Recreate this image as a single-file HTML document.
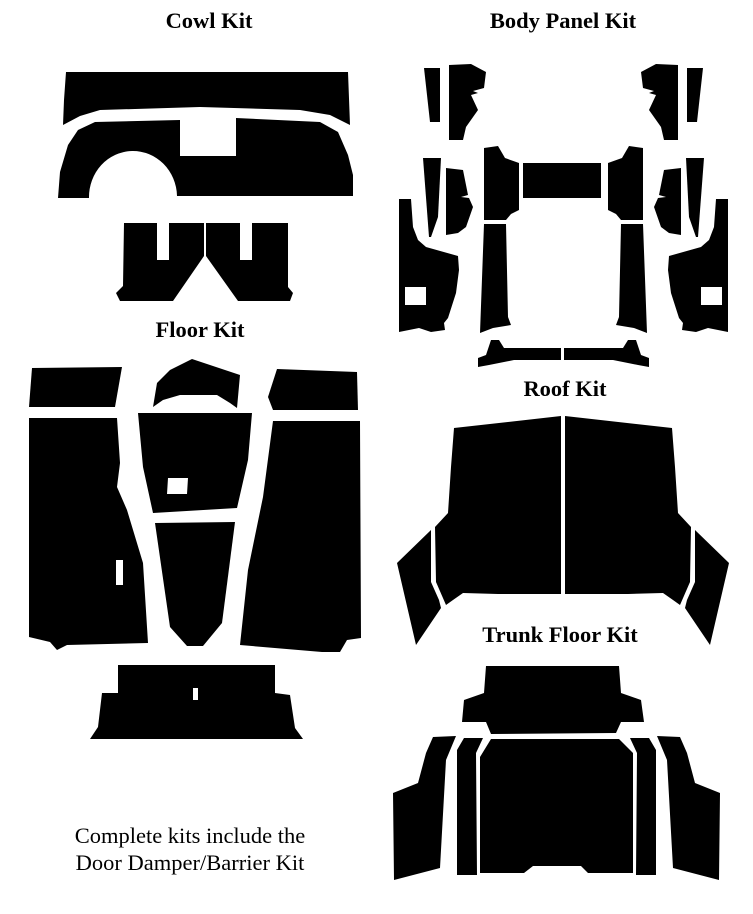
<!DOCTYPE html>
<html><head><meta charset="utf-8"><style>
html,body{margin:0;padding:0;background:#fff;}
svg{display:block;}
text{font-family:"Liberation Serif",serif;fill:#000;}
.t{font-weight:bold;font-size:22.5px;}
</style></head><body>
<svg width="753" height="914" viewBox="0 0 753 914" xmlns="http://www.w3.org/2000/svg">
<text class="t" x="209" y="28" text-anchor="middle">Cowl Kit</text>
<text class="t" x="563" y="28" text-anchor="middle">Body Panel Kit</text>
<text class="t" x="200" y="337" text-anchor="middle">Floor Kit</text>
<text class="t" x="565" y="396" text-anchor="middle">Roof Kit</text>
<text class="t" x="560" y="642" text-anchor="middle">Trunk Floor Kit</text>
<text x="190" y="843" text-anchor="middle" font-size="22.5">Complete kits include the</text>
<text x="190" y="870" text-anchor="middle" font-size="22.5">Door Damper/Barrier Kit</text>
<g fill="#000">
<!-- Cowl -->
<path d="M66,72 L348,72 350,125 330,115 300,110 200,107 100,110 80,116 63,125 64,100 Z"/>
<path d="M58,198 L60,172 68,145 78,130 95,122 180,120 180,156 236,156 236,118 320,122 338,132 348,155 353,175 353,196 L177,196 A44,46 0 0 0 89,198 Z"/>
<path d="M124,223 L157,223 157,260 169,260 169,223 204,223 204,256 173,301 120,301 116,293 123,286 Z"/>
<path d="M206,223 L240,223 240,260 252,260 252,223 288,223 288,287 293,293 290,301 238,301 206,256 Z"/>
<!-- Body panel -->
<rect x="523" y="163" width="78" height="35"/>
<g>
<path d="M424,68 L440,68 440,122 430,122 Z"/>
<path d="M449,65 L471,64 486,72 484,88 473,91 478,93 471,95 478,110 466,127 463,140 449,140 Z"/>
<path d="M484,148 L498,146 505,158 519,163 519,210 511,214 506,220 484,220 Z"/>
<path d="M484,224 L506,224 508,317 511,325 493,328 480,333 Z"/>
<path d="M423,158 L441,158 438,217 431,237 429,237 Z"/>
<path d="M446,168 L463,170 468,195 461,197 469,198 473,207 466,227 458,233 446,235 Z"/>
<path fill-rule="evenodd" d="M399,199 L411,199 413,227 418,240 426,247 458,256 459,270 456,293 448,318 444,323 445,330 431,332 419,328 399,332 Z M405,287 L426,287 426,305 405,305 Z"/>
<path d="M491,340 L499,340 504,348 561,348 561,360 514,360 489,365 478,367 478,358 486,355 Z"/>
</g>
<g transform="translate(1127,0) scale(-1,1)">
<path d="M424,68 L440,68 440,122 430,122 Z"/>
<path d="M449,65 L471,64 486,72 484,88 473,91 478,93 471,95 478,110 466,127 463,140 449,140 Z"/>
<path d="M484,148 L498,146 505,158 519,163 519,210 511,214 506,220 484,220 Z"/>
<path d="M484,224 L506,224 508,317 511,325 493,328 480,333 Z"/>
<path d="M423,158 L441,158 438,217 431,237 429,237 Z"/>
<path d="M446,168 L463,170 468,195 461,197 469,198 473,207 466,227 458,233 446,235 Z"/>
<path fill-rule="evenodd" d="M399,199 L411,199 413,227 418,240 426,247 458,256 459,270 456,293 448,318 444,323 445,330 431,332 419,328 399,332 Z M405,287 L426,287 426,305 405,305 Z"/>
<path d="M491,340 L499,340 504,348 563,348 563,360 514,360 489,365 478,367 478,358 486,355 Z"/>
</g>
<!-- Floor -->
<path d="M32,368 L122,367 115,407 29,407 Z"/>
<path d="M153,407 L157,383 170,370 192,359 240,375 237,408 230,403 217,395 180,395 163,400 Z"/>
<path d="M277,369 L357,372 358,410 273,410 268,397 Z"/>
<path fill-rule="evenodd" d="M29,418 L117,418 120,463 117,487 127,510 143,563 148,643 67,645 57,650 50,642 29,637 Z M116,560 L123,560 123,585 116,585 Z"/>
<path fill-rule="evenodd" d="M138,413 L252,413 248,460 237,508 153,513 143,467 Z M168,478 L188,478 187,494 167,494 Z"/>
<path d="M155,523 L235,522 222,623 203,646 187,646 170,627 Z"/>
<path d="M273,421 L360,421 361,638 347,640 340,652 322,652 240,645 248,570 263,497 Z"/>
<path fill-rule="evenodd" d="M118,665 L275,665 275,693 290,695 295,728 303,739 90,739 98,727 102,693 118,693 Z M193,688 L198,688 198,700 193,700 Z"/>
<!-- Roof -->
<g>
<path d="M454,428 L561,416 561,594 498,594 463,593 453,600 446,605 436,582 435,527 448,513 451,467 Z"/>
<path d="M431,530 L431,582 439,600 441,608 416,645 397,563 Z"/>
</g>
<g transform="translate(1126,0) scale(-1,1)">
<path d="M454,428 L561,416 561,594 498,594 463,593 453,600 446,605 436,582 435,527 448,513 451,467 Z"/>
<path d="M431,530 L431,582 439,600 441,608 416,645 397,563 Z"/>
</g>
<!-- Trunk -->
<path d="M486,666 L619,666 621,693 641,700 644,722 621,722 616,733 491,734 486,722 462,722 464,700 484,693 Z"/>
<path d="M491,739 L619,739 633,753 633,873 588,873 581,866 533,866 524,873 480,873 480,757 Z"/>
<path d="M464,738 L483,738 476,753 477,875 457,875 457,750 Z"/>
<path d="M433,737 L456,736 446,760 440,868 394,880 393,793 418,783 426,753 Z"/>
<g transform="translate(1113,0) scale(-1,1)">
<path d="M464,738 L483,738 476,753 477,875 457,875 457,750 Z"/>
<path d="M433,737 L456,736 446,760 440,868 394,880 393,793 418,783 426,753 Z"/>
</g>
</g>
</svg>
</body></html>
